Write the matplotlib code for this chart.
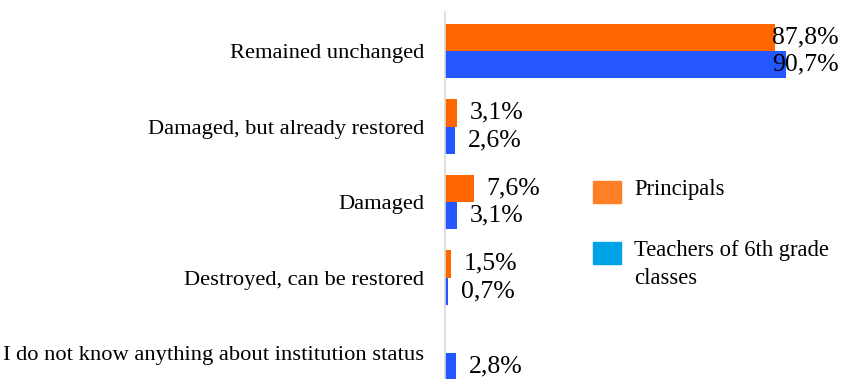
import numpy as np
import matplotlib.pyplot as plt
from matplotlib.patches import Rectangle

# Survey: status of the educational institution
categories = ["Remained unchanged",
              "Damaged, but already restored",
              "Damaged",
              "Destroyed, can be restored",
              "I do not know anything about institution status"]
principals = [87.8, 3.1, 7.6, 1.5, 0.0]
teachers = [90.7, 2.6, 3.1, 0.7, 2.8]
series_names = ["Principals", "Teachers of 6th grade\nclasses"]

plt.rcParams['font.family'] = ['Liberation Serif', 'DejaVu Serif']

W, H = 841, 379
fig = plt.figure(figsize=(W / 100, H / 100), dpi=100)
ax = fig.add_axes([445 / W, 0, 1 - 445 / W, 1 - 12 / H])

y = np.arange(len(categories))
h = 0.36
ax.barh(y - h / 2, principals, height=h, color='#ff6600')
ax.barh(y + h / 2, teachers, height=h, color='#2457ff')

xmax = 105.3
ax.set_xlim(0, xmax)
ax.set_ylim(4.344, -0.517)

def fmt(v):
    return f"{v:.1f}%".replace('.', ',')

for vals, off in ((principals, -h / 2), (teachers, h / 2)):
    for i, v in enumerate(vals):
        if v <= 0:
            continue
        if v > 80:
            ax.text(xmax - 0.6, i + off, fmt(v), ha='right', va='center', fontsize=18.5)
        else:
            ax.text(v + 3.5, i + off, fmt(v), ha='left', va='center', fontsize=18.5)

ax.set_yticks(y)
ax.set_yticklabels(categories, fontsize=16.2)
ax.tick_params(axis='y', length=0, pad=15)
ax.set_xticks([])
for s in ('top', 'right', 'bottom'):
    ax.spines[s].set_visible(False)
ax.spines['left'].set_color('#d9d9d9')
ax.spines['left'].set_linewidth(1.2)

# legend drawn by hand in pixel coordinates
legend_colors = ['#ff7f27', '#00a2e8']
legend_y = [192, 253]
for name, c, yc in zip(series_names, legend_colors, legend_y):
    fig.add_artist(Rectangle((593 / W, 1 - (yc + 11) / H), 28 / W, 22 / H,
                             transform=fig.transFigure, color=c))
    fig.text(634 / W, 1 - (yc - 13) / H, name, ha='left', va='top',
             fontsize=16.3, linespacing=1.45)

fig.savefig('out.png', dpi=100)
